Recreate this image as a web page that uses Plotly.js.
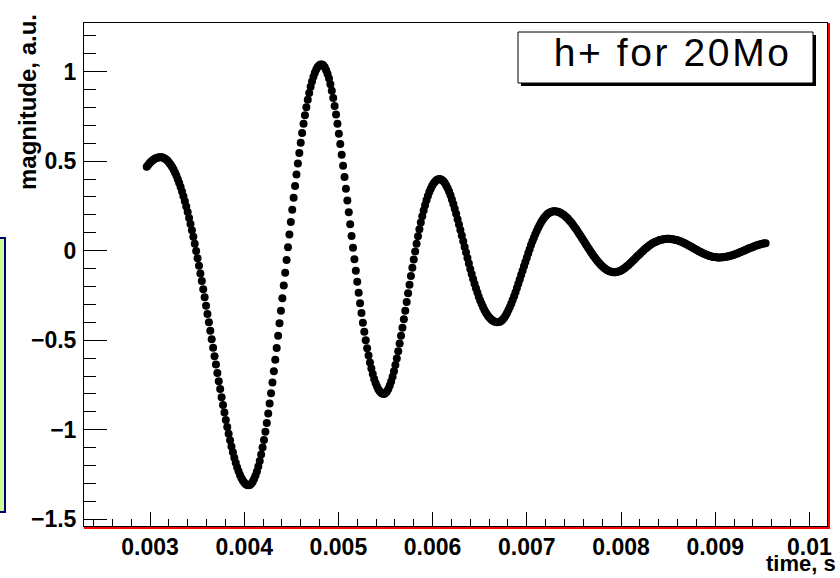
<!DOCTYPE html>
<html>
<head>
<meta charset="utf-8">
<script src="https://cdn.plot.ly/plotly-3.0.1.min.js"></script>
<style>
  html, body { margin: 0; padding: 0; background: #ffffff; }
  #chart { width: 840px; height: 578px; }
  g.annotation[data-index="0"] text { letter-spacing: 2.6px; }
</style>
</head>
<body>
<div id="chart"></div>
<script>
// time stamps in microseconds
const timeUs = [
2965,2980,2995,3010,3025,3040,3055,3070,3085,3100,
3115,3130,3145,3160,3175,3190,3205,3220,3235,3250,
3265,3280,3295,3310,3325,3340,3355,3370,3385,3400,
3415,3430,3445,3460,3475,3490,3505,3520,3535,3550,
3565,3580,3595,3610,3625,3640,3655,3670,3685,3700,
3715,3730,3745,3760,3775,3790,3805,3820,3835,3850,
3865,3880,3895,3910,3925,3940,3955,3970,3985,4000,
4015,4030,4045,4060,4075,4090,4105,4120,4135,4150,
4165,4180,4195,4210,4225,4240,4255,4270,4285,4300,
4315,4330,4345,4360,4375,4390,4405,4420,4435,4450,
4465,4480,4495,4510,4525,4540,4555,4570,4585,4600,
4615,4630,4645,4660,4675,4690,4705,4720,4735,4750,
4765,4780,4795,4810,4825,4840,4855,4870,4885,4900,
4915,4930,4945,4960,4975,4990,5005,5020,5035,5050,
5065,5080,5095,5110,5125,5140,5155,5170,5185,5200,
5215,5230,5245,5260,5275,5290,5305,5320,5335,5350,
5365,5380,5395,5410,5425,5440,5455,5470,5485,5500,
5515,5530,5545,5560,5575,5590,5605,5620,5635,5650,
5665,5680,5695,5710,5725,5740,5755,5770,5785,5800,
5815,5830,5845,5860,5875,5890,5905,5920,5935,5950,
5965,5980,5995,6010,6025,6040,6055,6070,6085,6100,
6115,6130,6145,6160,6175,6190,6205,6220,6235,6250,
6265,6280,6295,6310,6325,6340,6355,6370,6385,6400,
6415,6430,6445,6460,6475,6490,6505,6520,6535,6550,
6565,6580,6595,6610,6625,6640,6655,6670,6685,6700,
6715,6730,6745,6760,6775,6790,6805,6820,6835,6850,
6865,6880,6895,6910,6925,6940,6955,6970,6985,7000,
7015,7030,7045,7060,7075,7090,7105,7120,7135,7150,
7165,7180,7195,7210,7225,7240,7255,7270,7285,7300,
7315,7330,7345,7360,7375,7390,7405,7420,7435,7450,
7465,7480,7495,7510,7525,7540,7555,7570,7585,7600,
7615,7630,7645,7660,7675,7690,7705,7720,7735,7750,
7765,7780,7795,7810,7825,7840,7855,7870,7885,7900,
7915,7930,7945,7960,7975,7990,8005,8020,8035,8050,
8065,8080,8095,8110,8125,8140,8155,8170,8185,8200,
8215,8230,8245,8260,8275,8290,8305,8320,8335,8350,
8365,8380,8395,8410,8425,8440,8455,8470,8485,8500,
8515,8530,8545,8560,8575,8590,8605,8620,8635,8650,
8665,8680,8695,8710,8725,8740,8755,8770,8785,8800,
8815,8830,8845,8860,8875,8890,8905,8920,8935,8950,
8965,8980,8995,9010,9025,9040,9055,9070,9085,9100,
9115,9130,9145,9160,9175,9190,9205,9220,9235,9250,
9265,9280,9295,9310,9325,9340,9355,9370,9385,9400,
9415,9430,9445,9460,9475,9490,9505,9520,9535
];

// h+ magnitude, a.u.
const magnitude = [
0.468,0.479,0.488,0.496,0.503,0.509,0.514,0.518,0.520,0.522,
0.522,0.521,0.518,0.513,0.507,0.500,0.490,0.480,0.467,0.453,
0.437,0.419,0.399,0.378,0.355,0.331,0.304,0.276,0.247,0.216,
0.183,0.149,0.114,0.077,0.038,-0.002,-0.042,-0.084,-0.127,-0.170,
-0.215,-0.260,-0.307,-0.353,-0.400,-0.447,-0.494,-0.542,-0.589,-0.636,
-0.683,-0.729,-0.773,-0.818,-0.862,-0.904,-0.945,-0.985,-1.023,-1.059,
-1.093,-1.126,-1.156,-1.184,-1.209,-1.232,-1.252,-1.269,-1.284,-1.295,
-1.303,-1.308,-1.310,-1.308,-1.301,-1.290,-1.275,-1.256,-1.233,-1.205,
-1.174,-1.138,-1.099,-1.057,-1.011,-0.962,-0.909,-0.854,-0.796,-0.736,
-0.673,-0.609,-0.543,-0.475,-0.406,-0.336,-0.266,-0.194,-0.123,-0.052,
0.019,0.090,0.160,0.228,0.296,0.361,0.425,0.486,0.546,0.603,
0.657,0.708,0.756,0.801,0.843,0.881,0.915,0.945,0.971,0.993,
1.011,1.025,1.034,1.039,1.040,1.035,1.024,1.008,0.987,0.961,
0.929,0.893,0.853,0.808,0.760,0.708,0.653,0.595,0.535,0.474,
0.411,0.346,0.280,0.214,0.148,0.082,0.016,-0.048,-0.112,-0.174,
-0.235,-0.293,-0.348,-0.402,-0.453,-0.500,-0.545,-0.586,-0.624,-0.658,
-0.689,-0.716,-0.740,-0.759,-0.775,-0.787,-0.795,-0.799,-0.800,-0.795,
-0.786,-0.772,-0.753,-0.731,-0.704,-0.673,-0.639,-0.602,-0.562,-0.519,
-0.475,-0.430,-0.383,-0.335,-0.287,-0.238,-0.190,-0.142,-0.095,-0.049,
-0.004,0.039,0.080,0.120,0.157,0.192,0.224,0.254,0.281,0.305,
0.327,0.346,0.362,0.375,0.385,0.393,0.398,0.400,0.399,0.395,
0.388,0.378,0.364,0.348,0.330,0.309,0.286,0.260,0.234,0.206,
0.176,0.146,0.115,0.084,0.052,0.021,-0.010,-0.041,-0.072,-0.102,
-0.130,-0.158,-0.185,-0.210,-0.234,-0.257,-0.278,-0.297,-0.315,-0.331,
-0.345,-0.358,-0.369,-0.378,-0.386,-0.392,-0.396,-0.399,-0.400,-0.399,
-0.397,-0.391,-0.384,-0.374,-0.362,-0.348,-0.332,-0.315,-0.296,-0.276,
-0.255,-0.232,-0.209,-0.185,-0.161,-0.136,-0.112,-0.087,-0.063,-0.039,
-0.015,0.008,0.031,0.052,0.072,0.091,0.110,0.127,0.142,0.157,
0.170,0.181,0.191,0.199,0.207,0.212,0.216,0.219,0.220,0.220,
0.219,0.217,0.214,0.210,0.205,0.200,0.194,0.187,0.179,0.170,
0.161,0.151,0.141,0.130,0.119,0.107,0.095,0.083,0.071,0.058,
0.046,0.033,0.021,0.009,-0.003,-0.015,-0.027,-0.037,-0.048,-0.058,
-0.067,-0.076,-0.084,-0.091,-0.098,-0.104,-0.109,-0.113,-0.116,-0.118,
-0.120,-0.120,-0.120,-0.118,-0.116,-0.113,-0.109,-0.104,-0.099,-0.093,
-0.086,-0.080,-0.072,-0.065,-0.057,-0.049,-0.041,-0.033,-0.025,-0.018,
-0.010,-0.003,0.005,0.012,0.018,0.024,0.030,0.036,0.041,0.045,
0.049,0.053,0.056,0.059,0.061,0.063,0.064,0.065,0.066,0.066,
0.066,0.065,0.064,0.063,0.061,0.059,0.057,0.054,0.051,0.047,
0.044,0.040,0.036,0.032,0.027,0.023,0.019,0.014,0.009,0.005,
0.001,-0.004,-0.008,-0.012,-0.016,-0.019,-0.023,-0.026,-0.029,-0.031,
-0.033,-0.035,-0.036,-0.037,-0.038,-0.038,-0.038,-0.037,-0.037,-0.036,
-0.034,-0.033,-0.031,-0.029,-0.027,-0.024,-0.021,-0.019,-0.016,-0.012,
-0.009,-0.006,-0.002,0.001,0.005,0.008,0.012,0.015,0.018,0.021,
0.025,0.027,0.030,0.033,0.035,0.037,0.039,0.041,0.042
];

const xTickVals = [0.003, 0.004, 0.005, 0.006, 0.007, 0.008, 0.009, 0.01];
const xTickText = ['0.003', '0.004', '0.005', '0.006', '0.007', '0.008', '0.009', '0.01'];
const yTickVals = [-1.5, -1, -0.5, 0, 0.5, 1];
const yTickText = ['\u22121.5', '\u22121', '\u22120.5', '0', '0.5', '1'];

const chartTitle = 'h+ for 20Mo';
const xTitle = 'time, s';
const yTitle = 'magnitude, a.u.';

// ---- layout helpers (pixel -> paper) ----
const L = 84, R = 827, T = 23, B = 526;
const px = v => (v - L) / (R - L);
const py = v => (B - v) / (B - T);

const timeSec = timeUs.map(v => v / 1e6);

const trace = {
  x: timeSec,
  y: magnitude,
  type: 'scatter',
  mode: 'markers',
  marker: { color: '#000000', size: 8, line: { width: 0 } },
  hoverinfo: 'skip'
};

const tickFont = { family: 'Liberation Sans, Arial, sans-serif', size: 23, color: '#000000', weight: 'bold' };

const layout = {
  width: 840,
  height: 578,
  margin: { l: L, r: 840 - R, t: T, b: 578 - B, pad: 0 },
  paper_bgcolor: '#ffffff',
  plot_bgcolor: '#ffffff',
  showlegend: false,
  xaxis: {
    range: [0.0022994, 0.0101868],
    showgrid: false, zeroline: false,
    showline: true, mirror: true, linecolor: '#000000', linewidth: 1,
    tickmode: 'array', tickvals: xTickVals, ticktext: xTickText,
    ticks: 'inside', ticklen: 14, tickwidth: 1, tickcolor: '#000000',
    minor: { tickmode: 'linear', tick0: 0.003, dtick: 0.0002, ticks: 'inside', ticklen: 7, tickwidth: 1, tickcolor: '#000000', showgrid: false },
    tickfont: tickFont,
    ticklabelstandoff: 0
  },
  yaxis: {
    range: [-1.5374, 1.2712],
    showgrid: false, zeroline: false,
    showline: true, mirror: true, linecolor: '#000000', linewidth: 1,
    tickmode: 'array', tickvals: yTickVals, ticktext: yTickText,
    ticks: 'inside', ticklen: 23, tickwidth: 1, tickcolor: '#000000',
    minor: { tickmode: 'linear', tick0: 0, dtick: 0.1, ticks: 'inside', ticklen: 12, tickwidth: 1, tickcolor: '#000000', showgrid: false },
    tickfont: tickFont,
    ticklabelstandoff: 2
  },
  shapes: [
    // red frame edges (bottom, right)
    { type: 'line', xref: 'paper', yref: 'paper', x0: px(L), x1: px(R + 3), y0: py(528), y1: py(528), line: { color: '#ff0000', width: 2 } },
    { type: 'line', xref: 'paper', yref: 'paper', x0: px(829), x1: px(829), y0: py(B + 3), y1: py(T), line: { color: '#ff0000', width: 2 } },
    // partially visible pave on the left edge
    { type: 'rect', xref: 'paper', yref: 'paper', x0: px(-10), x1: px(5), y0: py(512), y1: py(238), fillcolor: '#ccff99', line: { color: '#000066', width: 2 } },
    // title box shadow + box
    { type: 'rect', xref: 'paper', yref: 'paper', x0: px(521), x1: px(816), y0: py(86), y1: py(35), fillcolor: '#000000', line: { width: 0 } },
    { type: 'rect', xref: 'paper', yref: 'paper', x0: px(518), x1: px(813), y0: py(83), y1: py(32), fillcolor: '#ffffff', line: { color: '#000000', width: 1 } }
  ],
  annotations: [
    { text: chartTitle, xref: 'paper', yref: 'paper', x: px(672), y: py(53), xanchor: 'center', yanchor: 'middle', showarrow: false,
      font: { family: 'Liberation Sans, Arial, sans-serif', size: 39, color: '#000000' } },
    { text: yTitle, xref: 'paper', yref: 'paper', x: px(27), y: py(12), xanchor: 'center', yanchor: 'top', textangle: -90, showarrow: false,
      font: { family: 'Liberation Sans, Arial, sans-serif', size: 24, color: '#000000', weight: 'bold' } },
    { text: xTitle, xref: 'paper', yref: 'paper', x: px(838), y: py(563), xanchor: 'right', yanchor: 'middle', showarrow: false,
      font: { family: 'Liberation Sans, Arial, sans-serif', size: 22, color: '#000000', weight: 'bold' } }
  ]
};

Plotly.newPlot('chart', [trace], layout, { displayModeBar: false, staticPlot: true });
</script>
</body>
</html>
